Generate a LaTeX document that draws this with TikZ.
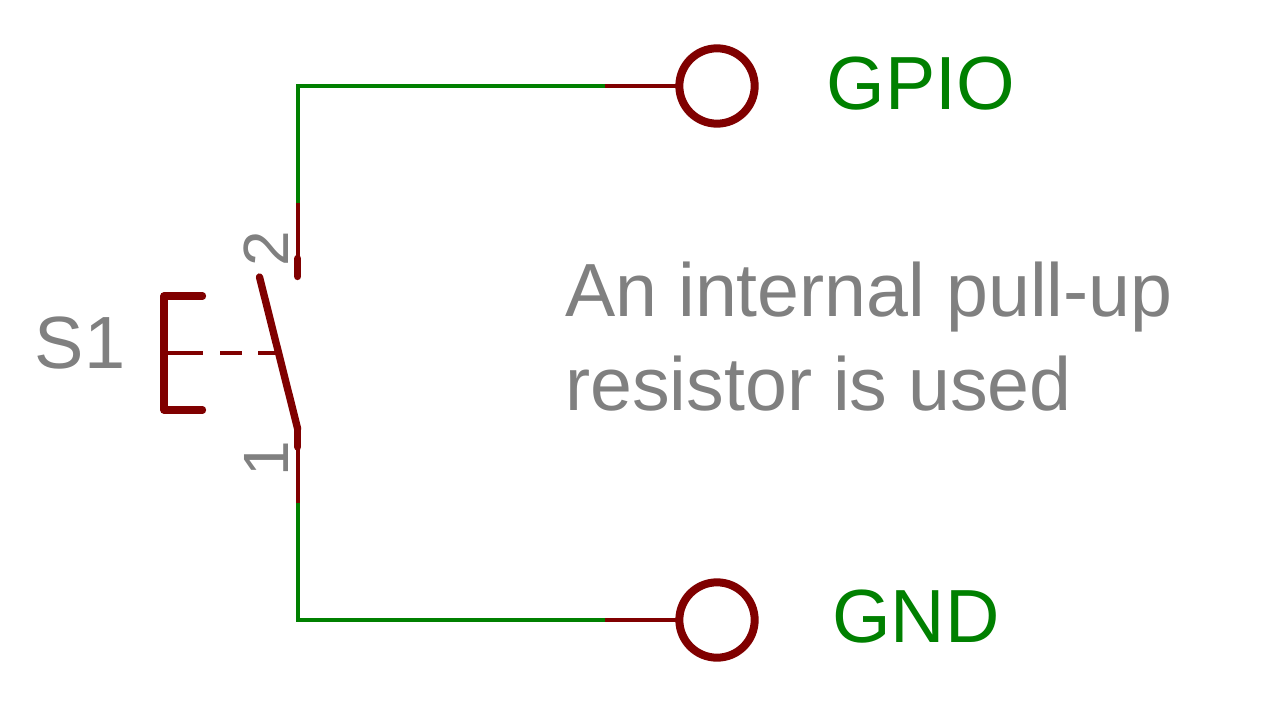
\documentclass[tikz,border=0pt]{standalone}
\usepackage{fontspec}
\setmainfont{Liberation Sans}
\definecolor{wire}{HTML}{008000}
\definecolor{sym}{HTML}{800000}
\definecolor{lab}{HTML}{808080}
\tikzset{
 x=0.75pt,y=-0.75pt,
 wirel/.style={draw=wire,line width=3pt},
 pinl/.style={draw=sym,line width=3pt},
 thick sym/.style={draw=sym,line width=5.5pt,line cap=round,line join=round},
 padc/.style={circle,draw=sym,line width=6pt,minimum size=56.5pt,inner sep=0pt,outer sep=0pt,fill=none},
 biglab/.style={font=\fontsize{56.5pt}{56.5pt}\selectfont,inner sep=0pt,anchor=base west},
 pinlab/.style={font=\fontsize{48pt}{48pt}\selectfont,inner sep=0pt,text=lab,rotate=90,anchor=base},
}
\begin{document}
\begin{tikzpicture}
\useasboundingbox (0,0) rectangle (1280,720);
\coordinate (topc) at (297.7,86);
\coordinate (botc) at (297.7,620);
\coordinate (p2) at (297.7,203);
\coordinate (p1) at (297.7,503);
\coordinate (p2e) at (297.7,277);
\coordinate (p1e) at (297.7,429);
\coordinate (t1) at (605,86);
\coordinate (t2) at (605,620);
\node[padc] (gpio) at (717,86) {};
\node[padc] (gnd) at (717,620) {};
\draw[wirel] (t1) -- (topc) -- (p2);
\draw[wirel] (t2) -- (botc) -- (p1);
\draw[pinl] (t1) -- (gpio.west);
\draw[pinl] (t2) -- (gnd.west);
\draw[pinl] (p2) -- (p2e);
\draw[pinl] (p1) -- (p1e);
\draw[thick sym] (297.7,258.5) -- (297.7,276.5);
\draw[thick sym] (p1e) -- (297.7,447);
\draw[thick sym] (259.5,277) -- (p1e);
\draw[thick sym] (202.5,296) -- (164,296) -- (164,410) -- (202.5,410);
\draw[pinl,dash pattern=on 29.25pt off 12.75pt on 16.5pt off 12pt on 15pt off 100pt] (164,353) -- (278,353);
\node[biglab,text=wire] (lg) at (826.5,109.5) {GPIO};
\node[biglab,text=wire] (ln) at (832,642.5) {GND};
\node[biglab,text=lab,font=\fontsize{55.5pt}{55.5pt}\selectfont] (ls) at (34.5,368.5) {S1};
\node[biglab,text=lab] (l1) at (565,316) {An internal pull-up};
\node[biglab,text=lab] (l2) at (565,410.5) {resistor is used};
\node[pinlab] (n2) at (288,248.5) {2};
\node[pinlab] (n1) at (288,459) {1};
\end{tikzpicture}
\end{document}
